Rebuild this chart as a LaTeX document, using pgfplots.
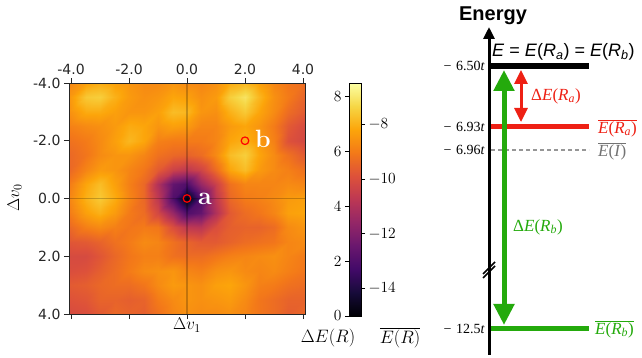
\RequirePackage{fix-cm}
\documentclass[border=0pt]{standalone}
\usepackage{fontspec}
\usepackage{pgfplots}
\pgfplotsset{compat=1.18}
\usetikzlibrary{arrows.meta}
\newfontfamily\dejavu{DejaVu Sans}
\newfontfamily\libserif{Liberation Serif}
\newfontfamily\libsans{Liberation Sans}
\pgfplotsset{colormap={inferno}{rgb255=(0,0,4) rgb255=(22,11,57) rgb255=(66,10,104) rgb255=(106,23,110) rgb255=(147,38,103) rgb255=(188,55,84) rgb255=(221,81,58) rgb255=(243,120,25) rgb255=(252,165,10) rgb255=(246,215,70) rgb255=(252,255,164)}}
\definecolor{ered}{RGB}{238,32,20}
\definecolor{egreen}{RGB}{36,170,12}
\definecolor{egray}{RGB}{150,150,150}

\pgfplotstableread{
x y z
-4.07 -4 6.2
-3.5 -4 6.7
-3 -4 6.9
-2.5 -4 6.7
-2 -4 6.5
-1.5 -4 6.3
-1 -4 6.3
-0.5 -4 6.5
0 -4 6.3
0.5 -4 6.2
1 -4 6.4
1.5 -4 6.9
2 -4 7.1
2.5 -4 6.7
3 -4 6.2
3.5 -4 5.9
4.07 -4 5.7
-4.07 -3.5 6.5
-3.5 -3.5 7.4
-3 -3.5 7.5
-2.5 -3.5 7.0
-2 -3.5 6.6
-1.5 -3.5 6.4
-1 -3.5 6.5
-0.5 -3.5 6.8
0 -3.5 6.7
0.5 -3.5 6.4
1 -3.5 6.6
1.5 -3.5 7.5
2 -3.5 7.9
2.5 -3.5 7.1
3 -3.5 6.4
3.5 -3.5 6.0
4.07 -3.5 5.5
-4.07 -3 6.4
-3.5 -3 6.9
-3 -3 6.9
-2.5 -3 6.7
-2 -3 6.5
-1.5 -3 6.5
-1 -3 6.7
-0.5 -3 7.2
0 -3 7.1
0.5 -3 6.5
1 -3 6.4
1.5 -3 7.0
2 -3 7.4
2.5 -3 6.8
3 -3 6.3
3.5 -3 5.7
4.07 -3 5.3
-4.07 -2.5 6.1
-3.5 -2.5 6.3
-3 -2.5 6.4
-2.5 -2.5 6.6
-2 -2.5 6.9
-1.5 -2.5 6.8
-1 -2.5 6.5
-0.5 -2.5 6.7
0 -2.5 6.6
0.5 -2.5 6.2
1 -2.5 6.2
1.5 -2.5 6.6
2 -2.5 6.8
2.5 -2.5 6.5
3 -2.5 6.0
3.5 -2.5 5.3
4.07 -2.5 4.9
-4.07 -2 5.8
-3.5 -2 6.0
-3 -2 6.3
-2.5 -2 6.7
-2 -2 7.1
-1.5 -2 6.8
-1 -2 6.1
-0.5 -2 6.0
0 -2 6.0
0.5 -2 6.0
1 -2 6.2
1.5 -2 6.8
2 -2 7.0
2.5 -2 6.6
3 -2 6.1
3.5 -2 5.1
4.07 -2 4.8
-4.07 -1.5 5.6
-3.5 -1.5 5.9
-3 -1.5 6.3
-2.5 -1.5 6.5
-2 -1.5 6.5
-1.5 -1.5 6.2
-1 -1.5 5.8
-0.5 -1.5 5.6
0 -1.5 5.5
0.5 -1.5 5.7
1 -1.5 6.3
1.5 -1.5 7.2
2 -1.5 7.5
2.5 -1.5 6.8
3 -1.5 6.3
3.5 -1.5 5.8
4.07 -1.5 5.3
-4.07 -1 5.6
-3.5 -1 6.2
-3 -1 6.6
-2.5 -1 6.5
-2 -1 6.2
-1.5 -1 5.9
-1 -1 5.3
-0.5 -1 4.6
0 -1 4.3
0.5 -1 4.7
1 -1 5.7
1.5 -1 6.8
2 -1 7.2
2.5 -1 6.6
3 -1 6.3
3.5 -1 6.1
4.07 -1 5.8
-4.07 -0.5 6.0
-3.5 -0.5 6.8
-3 -0.5 7.2
-2.5 -0.5 6.7
-2 -0.5 6.1
-1.5 -0.5 5.6
-1 -0.5 4.0
-0.5 -0.5 2.4
0 -0.5 2.0
0.5 -0.5 3.5
1 -0.5 4.6
1.5 -0.5 5.8
2 -0.5 6.2
2.5 -0.5 6.2
3 -0.5 6.2
3.5 -0.5 6.3
4.07 -0.5 6.2
-4.07 0 6.2
-3.5 0 7.0
-3 0 7.4
-2.5 0 6.9
-2 0 6.2
-1.5 0 5.6
-1 0 4.3
-0.5 0 2.0
0 0 0.1
0.5 0 2.0
1 0 4.3
1.5 0 5.6
2 0 6.0
2.5 0 6.1
3 0 6.3
3.5 0 6.6
4.07 0 6.7
-4.07 0.5 6.0
-3.5 0.5 6.7
-3 0.5 7.0
-2.5 0.5 6.6
-2 0.5 6.0
-1.5 0.5 5.7
-1 0.5 4.8
-0.5 0.5 3.5
0 0.5 2.0
0.5 0.5 2.4
1 0.5 4.0
1.5 0.5 5.3
2 0.5 5.7
2.5 0.5 5.9
3 0.5 6.2
3.5 0.5 6.7
4.07 0.5 6.8
-4.07 1 5.6
-3.5 1 6.1
-3 1 6.3
-2.5 1 6.1
-2 1 5.9
-1.5 1 6.0
-1 1 5.9
-0.5 1 5.0
0 1 4.3
0.5 1 4.2
1 1 5.0
1.5 1 5.4
2 1 5.5
2.5 1 5.5
3 1 5.7
3.5 1 6.3
4.07 1 6.5
-4.07 1.5 5.2
-3.5 1.5 5.3
-3 1.5 5.5
-2.5 1.5 5.8
-2 1.5 6.0
-1.5 1.5 6.3
-1 1.5 6.2
-0.5 1.5 5.8
0 1.5 5.5
0.5 1.5 5.3
1 1.5 5.3
1.5 1.5 5.5
2 1.5 5.7
2.5 1.5 5.8
3 1.5 5.9
3.5 1.5 6.2
4.07 1.5 6.3
-4.07 2 4.9
-3.5 2 4.9
-3 2 5.2
-2.5 2 5.6
-2 2 5.9
-1.5 2 6.1
-1 2 6.1
-0.5 2 5.8
0 2 5.7
0.5 2 5.7
1 2 5.9
1.5 2 6.1
2 2 6.2
2.5 2 6.3
3 2 6.4
3.5 2 6.2
4.07 2 6.0
-4.07 2.5 5.0
-3.5 2.5 5.1
-3 2.5 5.4
-2.5 2.5 5.7
-2 2.5 6.0
-1.5 2.5 6.3
-1 2.5 6.4
-0.5 2.5 6.5
0 2.5 6.2
0.5 2.5 6.1
1 2.5 6.4
1.5 2.5 6.5
2 2.5 6.3
2.5 2.5 6.2
3 2.5 6.3
3.5 2.5 6.1
4.07 2.5 5.9
-4.07 3 5.3
-3.5 3 5.4
-3 3 5.6
-2.5 3 5.7
-2 3 5.7
-1.5 3 5.9
-1 3 6.3
-0.5 3 6.6
0 3 6.5
0.5 3 6.4
1 3 6.7
1.5 3 6.8
2 3 6.5
2.5 3 6.1
3 3 6.0
3.5 3 5.8
4.07 3 5.7
-4.07 3.5 5.1
-3.5 3.5 5.2
-3 3.5 5.5
-2.5 3.5 5.5
-2 3.5 5.4
-1.5 3.5 5.5
-1 3.5 6.0
-0.5 3.5 6.3
0 3.5 6.5
0.5 3.5 6.4
1 3.5 6.5
1.5 3.5 6.6
2 3.5 6.3
2.5 3.5 5.9
3 3.5 5.7
3.5 3.5 5.5
4.07 3.5 5.5
-4.07 4 4.9
-3.5 4 5.0
-3 4 5.3
-2.5 4 5.6
-2 4 5.5
-1.5 4 5.4
-1 4 5.8
-0.5 4 6.2
0 4 6.4
0.5 4 6.3
1 4 6.3
1.5 4 6.4
2 4 6.2
2.5 4 5.9
3 4 5.7
3.5 4 5.4
4.07 4 5.6
}\heatdata

\pgfplotstableread{
x y c
0 0 0
1 0 0
0 0.5 0.5
1 0.5 0.5
0 1 1
1 1 1
0 1.5 1.5
1 1.5 1.5
0 2 2
1 2 2
0 2.5 2.5
1 2.5 2.5
0 3 3
1 3 3
0 3.5 3.5
1 3.5 3.5
0 4 4
1 4 4
0 4.5 4.5
1 4.5 4.5
0 5 5
1 5 5
0 5.5 5.5
1 5.5 5.5
0 6 6
1 6 6
0 6.5 6.5
1 6.5 6.5
0 7 7
1 7 7
0 7.5 7.5
1 7.5 7.5
0 8 8
1 8 8
0 8.5 8.5
1 8.5 8.5
}\cbdata

\begin{document}
\begin{tikzpicture}
\useasboundingbox (0,0) rectangle (642pt,358pt);

% ---------- heatmap ----------
\begin{axis}[at={(69pt,44pt)}, anchor=south west, scale only axis,
  width=236pt, height=231pt,
  xmin=-4.07, xmax=4.07, ymin=-4, ymax=4, y dir=reverse,
  colormap name=inferno, point meta min=0, point meta max=8.5,
  xtick={-4,-2,0,2,4}, xticklabels={-4.0,-2.0,0.0,2.0,4.0},
  xticklabel pos=top, xtick pos=both,
  ytick={-4,-2,0,2,4}, yticklabels={-4.0,-2.0,0.0,2.0,4.0}, ytick pos=left,
  tick align=outside, major tick length=5pt,
  tick style={black!85, line width=0.8pt},
  ticklabel style={font=\dejavu\fontsize{14}{16}\selectfont, text=black!85},
  axis line style={black!85, line width=0.8pt},
  clip=false, axis on top]
\addplot[surf, shader=interp, mesh/cols=17, point meta=explicit] table[x=x, y=y, meta=z] {\heatdata};
\addplot[black, opacity=0.22, line width=1.5pt] coordinates {(0,-4) (0,4)};
\addplot[black, opacity=0.22, line width=1.5pt] coordinates {(-4.07,0) (4.07,0)};
\addplot[only marks, mark=o, mark size=3.8pt, red, line width=1.2pt] coordinates {(0,0) (2,-2)};
\end{axis}

\node[anchor=base west, inner sep=0, text=white, font=\bfseries\fontsize{25}{28}\selectfont] at (198pt,153pt) {a};
\node[anchor=base west, inner sep=0, text=white, font=\bfseries\fontsize{25}{28}\selectfont] at (255pt,210pt) {b};
\node[anchor=base, inner sep=0, font=\fontsize{17}{20}\selectfont] at (187pt,28pt) {$\Delta v_1$};
\node[rotate=90, inner sep=0, font=\fontsize{17}{20}\selectfont] at (14.5pt,160pt) {$\Delta v_0$};

% ---------- colorbar ----------
\begin{axis}[at={(349pt,42pt)}, anchor=south west, scale only axis,
  width=12pt, height=233pt,
  xmin=0, xmax=1, ymin=0, ymax=8.5,
  colormap name=inferno, point meta min=0, point meta max=8.5,
  xtick=\empty, ytick={0,2,4,6,8}, ytick pos=left, yticklabel pos=left,
  tick align=outside, major tick length=4pt,
  tick style={black, line width=0.8pt},
  ticklabel style={font=\fontsize{15.5}{18}\selectfont},
  axis line style={black, line width=0.8pt}, axis on top]
\addplot[surf, shader=interp, mesh/cols=2, point meta=explicit] table[x=x, y=y, meta=c] {\cbdata};
\end{axis}
\begin{axis}[at={(349pt,42pt)}, anchor=south west, scale only axis,
  width=12pt, height=233pt,
  xmin=0, xmax=1, ymin=-15, ymax=-6.5,
  xtick=\empty, ytick={-14,-12,-10,-8}, ytick pos=right, yticklabel pos=right,
  tick align=outside, major tick length=4pt,
  tick style={black, line width=0.8pt},
  ticklabel style={font=\fontsize{15.5}{18}\selectfont},
  axis line style={black, line width=0.8pt}]
\end{axis}
\node[font=\fontsize{18}{21}\selectfont] at (328pt,20pt) {$\Delta E(R)$};
\node[font=\fontsize{18}{21}\selectfont] at (400pt,20pt) {$\overline{E(R)}$};

% ---------- energy diagram ----------
\begin{axis}[at={(430pt,0pt)}, anchor=south west, scale only axis,
  width=212pt, height=358pt, xmin=430, xmax=642, ymin=0, ymax=358,
  hide axis, clip=false]
\addplot[black, line width=3pt, -{Triangle[width=11pt,length=12pt]}] coordinates {(489,3) (489,331)};
\addplot[black, line width=1.5pt] coordinates {(483,80) (495,92)};
\addplot[black, line width=1.5pt] coordinates {(483,84) (495,96)};
\addplot[black, line width=5.5pt] coordinates {(491,292) (589,292)};
\addplot[ered, line width=5pt] coordinates {(491,231) (589,231)};
\addplot[egray, line width=1.5pt, dash pattern=on 4pt off 3pt] coordinates {(491,208) (589,208)};
\addplot[egreen, line width=5pt] coordinates {(491,29) (589,29)};
\addplot[egreen, line width=5pt, {Triangle[width=20pt,length=21pt]}-{Triangle[width=20pt,length=21pt]}] coordinates {(504,33) (504,288)};
\addplot[ered, line width=3pt, {Triangle[width=13pt,length=14pt]}-{Triangle[width=13pt,length=14pt]}] coordinates {(521,236) (521,288)};
\end{axis}

\node[font=\libsans\bfseries\fontsize{20}{24}\selectfont] at (493pt,342pt) {Energy};
\node[anchor=base west, inner sep=0, font=\libsans\fontsize{18}{22}\selectfont] at (492pt,301pt)
  {\textit{E} = \textit{E}(\textit{R}\textsubscript{\textit{a}}) = \textit{E}(\textit{R}\textsubscript{\textit{b}})};
\node[anchor=west, inner sep=0, text=ered, font=\libserif\fontsize{17}{20}\selectfont] at (531pt,262pt)
  {Δ\textit{E}(\textit{R}\textsubscript{\textit{a}})};
\node[anchor=west, inner sep=0, text=egreen, font=\libserif\fontsize{17}{20}\selectfont] at (513pt,131pt)
  {Δ\textit{E}(\textit{R}\textsubscript{\textit{b}})};
\node[anchor=west, inner sep=0, text=ered, font=\libserif\fontsize{17}{20}\selectfont] at (598pt,230pt)
  {$\overline{\hbox{\textit{E}(\textit{R}\textsubscript{\textit{a}})}}$};
\node[anchor=west, inner sep=0, text=black!55, font=\libserif\fontsize{17}{20}\selectfont] at (598pt,207pt)
  {$\overline{\hbox{\textit{E}(\textit{I})}}$};
\node[anchor=west, inner sep=0, text=egreen, font=\libserif\fontsize{17}{20}\selectfont] at (595pt,29pt)
  {$\overline{\hbox{\textit{E}(\textit{R}\textsubscript{\textit{b}})}}$};
\node[anchor=east, inner sep=0, font=\libserif\fontsize{14}{16}\selectfont] at (485pt,292pt) {−\,\,6.50\textit{t}};
\node[anchor=east, inner sep=0, font=\libserif\fontsize{14}{16}\selectfont] at (485pt,231pt) {−\,\,6.93\textit{t}};
\node[anchor=east, inner sep=0, font=\libserif\fontsize{14}{16}\selectfont] at (485pt,208pt) {−\,\,6.96\textit{t}};
\node[anchor=east, inner sep=0, font=\libserif\fontsize{14}{16}\selectfont] at (485pt,29pt) {−\,\,12.5\textit{t}};
\end{tikzpicture}
\end{document}
